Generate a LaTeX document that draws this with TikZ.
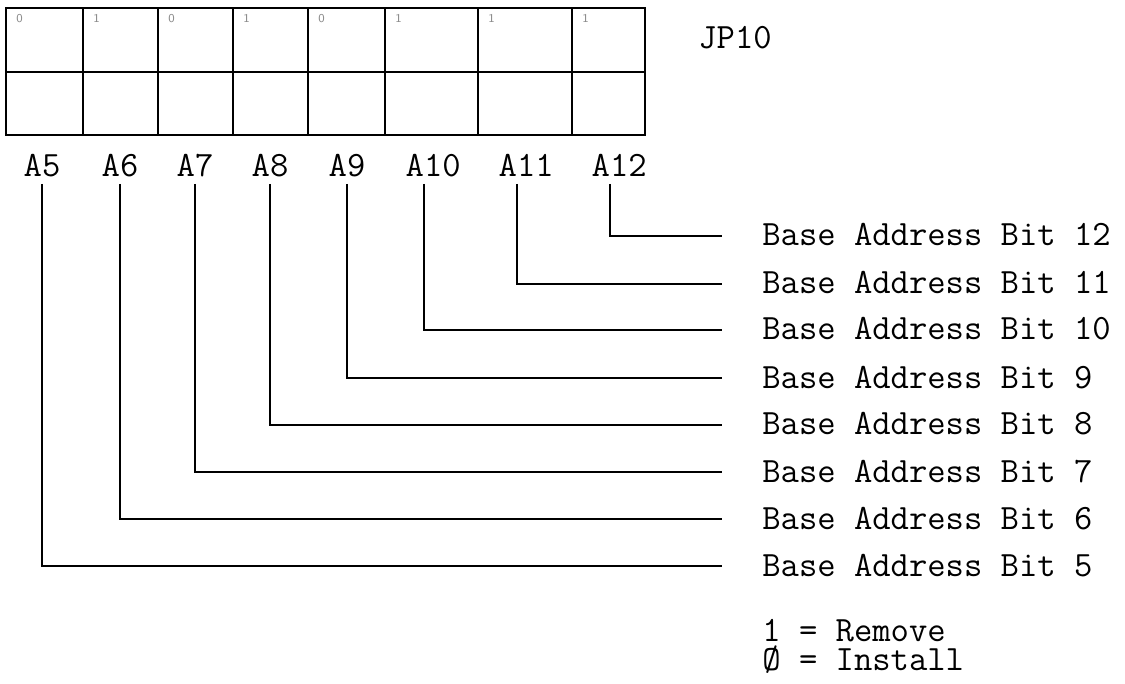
\documentclass[tikz,border=0pt]{standalone}
\usepackage{fontspec}
\usetikzlibrary{positioning}

\begin{document}
\begin{tikzpicture}[x=0.5pt,y=-0.5pt]

\tikzset{lbl/.style={font=\ttfamily\fontsize{17.8}{20}\selectfont, inner sep=0pt},
	wire/.style={line width=1.1pt, shorten >=20pt},
	jumper/.style={line width=1.4pt},
	pencil/.style={font=\sffamily\fontsize{6}{6}\selectfont, text=black!45,
		anchor=north west, inner sep=0pt}
}
\useasboundingbox (0,0) rectangle (1125,684);

% jumper block
\draw[jumper] (6,8) rectangle (645,135);
\draw[jumper] (6,72) -- (645,72);
\foreach \x in {83,158,233,308,385,478,572}
	\draw[jumper] (\x,8) -- (\x,135);
%pencil marks
\foreach \x/\v in {6/0,83/1,158/0,233/1,308/0,385/1,478/1,572/1}
	\node[pencil] (p\x) at (\x+10,14) {\v};

\node[lbl, anchor=west] (jp) at (698,38) {JP10};

% address lines
\foreach \n/\x/\y in {5/42/566, 6/120/519, 7/195/472, 8/270/425,
	9/347/378, 10/424/330, 11/517/284, 12/610/236}
{
	\node[lbl, anchor=base west] (a\n) at (\x-18.7,177) {A\n};
	\coordinate (t\n) at (\x,184);
	\node[lbl, anchor=base west] (b\n) at (762,\y+10) {Base Address Bit \n};
	\draw[wire] (t\n) |- (b\n.west |- 0,\y);
}

% key
\node[lbl, anchor=base west, align=left,
	font=\ttfamily\fontsize{17.8}{14.5}\selectfont] (key) at (762,670)
	{1 = Remove\\Ø = Install};
\end{tikzpicture}
\end{document}
